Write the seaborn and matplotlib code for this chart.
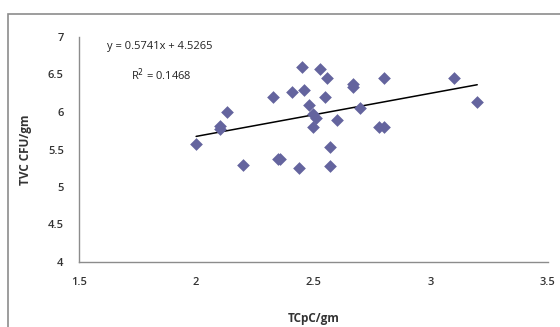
import matplotlib
matplotlib.use("Agg")
import matplotlib.pyplot as plt
import seaborn as sns
import numpy as np
import pandas as pd
from matplotlib.patches import Rectangle

# data
tcpc = [2.45, 2.53, 2.56, 2.67, 2.67, 2.80, 3.10, 3.20, 2.33, 2.41,
        2.46, 2.55, 2.48, 2.13, 2.50, 2.51, 2.60, 2.10, 2.10, 2.50,
        2.70, 2.78, 2.80, 2.00, 2.57, 2.20, 2.35, 2.36, 2.44, 2.57]
tvc = [6.60, 6.58, 6.46, 6.38, 6.33, 6.45, 6.45, 6.13, 6.20, 6.27,
       6.30, 6.20, 6.10, 6.00, 5.97, 5.92, 5.89, 5.82, 5.78, 5.80,
       6.05, 5.80, 5.80, 5.57, 5.54, 5.29, 5.38, 5.38, 5.26, 5.28]
slope = 0.5741
intercept = 4.5265
r_squared = 0.1468
x_ticks = [1.5, 2, 2.5, 3, 3.5]
y_ticks = [4, 4.5, 5, 5.5, 6, 6.5, 7]
x_label = "TCpC/gm"
y_label = "TVC CFU/gm"

df = pd.DataFrame({"x": tcpc, "y": tvc})

sns.set_style("white")
plt.rcParams["font.family"] = ["Open Sans", "DejaVu Sans"]

fig = plt.figure(figsize=(5.6, 3.27), dpi=100)
ax = fig.add_axes([79 / 560, 1 - 262 / 327, (547.5 - 79) / 560, (262 - 37) / 327])

sns.scatterplot(data=df, x="x", y="y", marker="D", s=42, color="#64649E",
                edgecolor="#64649E", linewidth=0, ax=ax, zorder=3)

xl = np.array([min(tcpc), max(tcpc)])
ax.plot(xl, slope * xl + intercept, color="black", lw=1.1, zorder=2)

ax.set_xlim(1.5, 3.5)
ax.set_ylim(4, 7)
ax.set_xticks(x_ticks)
ax.set_yticks(y_ticks)
ax.set_xticklabels([f"{v:g}" for v in x_ticks])
ax.set_yticklabels([f"{v:g}" for v in y_ticks])

for s in ["top", "right"]:
    ax.spines[s].set_visible(False)
for s in ["left", "bottom"]:
    ax.spines[s].set_color("#8C8C8C")
    ax.spines[s].set_linewidth(1.0)
ax.tick_params(axis="both", direction="out", length=5, width=1.0, color="#8C8C8C",
               labelsize=8, labelcolor="#333333", pad=6)
for lab in ax.get_xticklabels() + ax.get_yticklabels():
    lab.set_fontweight("semibold")

ax.set_xlabel(x_label, fontsize=8.5, fontweight="bold", color="#333333", labelpad=17)
ax.set_ylabel(y_label, fontsize=8.5, fontweight="bold", color="#333333", labelpad=11)

fig.text(107 / 560, 1 - 47 / 327, f"y = {slope}x + {intercept}", fontsize=8,
         color="#222222", va="center", ha="left")
fig.text(131 / 560, 1 - 75 / 327, f"R$^2$ = {r_squared}", fontsize=8,
         color="#222222", va="center", ha="left")

fig.patches.append(Rectangle((8 / 560, -0.1), 1.2, 1 - 14 / 327 + 0.1,
                             transform=fig.transFigure, fill=False,
                             edgecolor="#8C8C8C", lw=1.2, zorder=0))

fig.savefig("out.png", dpi=100)
